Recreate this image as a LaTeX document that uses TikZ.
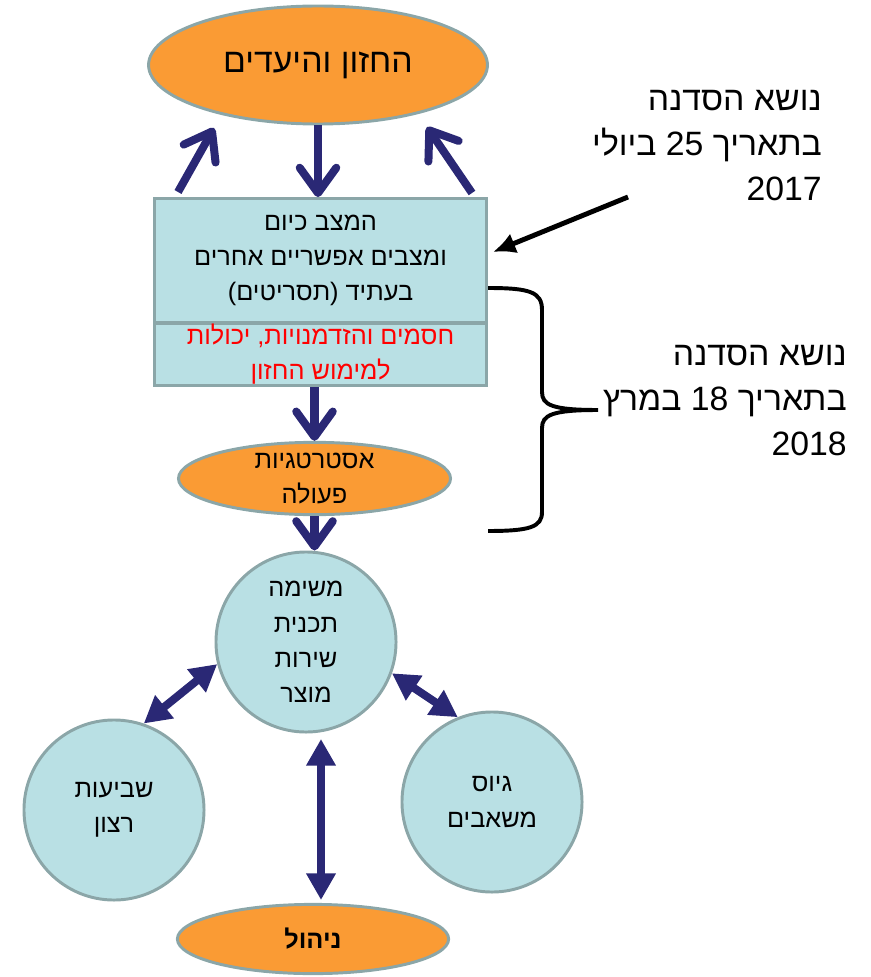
\documentclass[tikz,border=0pt]{standalone}
\usepackage{fontspec}
\setmainfont{Liberation Sans}
\newfontfamily\hebfont[Script=Hebrew]{Liberation Sans}
\usetikzlibrary{shapes.geometric, arrows.meta}
\TeXXeTstate=1
\definecolor{orangefill}{RGB}{250,155,52}
\definecolor{bluefill}{RGB}{185,224,228}
\definecolor{rim}{RGB}{139,166,168}
\definecolor{navy}{RGB}{42,40,117}
\newcommand{\heb}[1]{\beginR #1\endR}
\tikzstyle{goal}=[ellipse, draw=rim, fill=orangefill, line width=2.1pt, inner sep=0pt, align=center]
\tikzstyle{stage}=[rectangle, draw=rim, fill=bluefill, line width=2.1pt, inner sep=0pt, minimum width=8.3cm, align=center]
\tikzstyle{bubble}=[circle, draw=rim, fill=bluefill, line width=2.1pt, inner sep=0pt, minimum size=4.5cm, align=center]
\tikzstyle{flow}=[navy, line width=5.7pt, -{Straight Barb[length=18pt,width=26pt,round]}]
\tikzstyle{link}=[navy, line width=5.7pt, {Triangle[length=19pt,width=20pt]}-{Triangle[length=19pt,width=20pt]}]
\tikzstyle{pointer}=[black, line width=3.5pt, -{Latex[length=16pt,width=15pt]}]
\tikzstyle{note}=[font=\hebfont\fontsize{24}{32}\selectfont, align=right, anchor=east, inner sep=0pt]

\begin{document}
\begin{tikzpicture}[x=0.025cm, y=-0.025cm, font=\hebfont\fontsize{18}{25}\selectfont]
\useasboundingbox (0,0) rectangle (870,977);
\node [goal, minimum width=8.47cm, minimum height=2.95cm, font=\hebfont\fontsize{24}{28}\selectfont] (vision) at (318,65) {\heb{החזון והיעדים}};
\node [stage, minimum height=3.11cm] (scenario) at (320.5,260.75) {\heb{המצב כיום}\\ \heb{ומצבים אפשריים אחרים}\\ \heb{בעתיד (תסריטים)}};
\node [stage, minimum height=1.56cm, text=red] (barriers) at (320.5,354.25) {\heb{חסמים והזדמנויות, יכולות}\\ \heb{למימוש החזון}};
\node [goal, minimum width=6.8cm, minimum height=1.75cm] (strategy) at (314.5,478.5) {\heb{אסטרטגיות}\\ \heb{פעולה}};
\node [bubble] (task) at (306,642) {\heb{משימה}\\ \heb{תכנית}\\ \heb{שירות}\\ \heb{מוצר}};
\node [bubble] (satisfaction) at (114,810) {\heb{שביעות}\\ \heb{רצון}};
\node [bubble] (resources) at (492,802) {\heb{גיוס}\\ \heb{משאבים}};
\node [goal, minimum width=6.78cm, minimum height=1.73cm, font=\hebfont\bfseries\fontsize{18}{22}\selectfont] (management) at (313,939) {\heb{ניהול}};
\node [note] (july) at (822,146) {\heb{נושא הסדנה}\\ \heb{בתאריך 25 ביולי}\\ 2017};
\node [note] (march) at (847,401) {\heb{נושא הסדנה}\\ \heb{בתאריך 18 במרץ}\\ 2018};

\coordinate (a1) at (178,192); \coordinate (b1) at (214,128);
\coordinate (a3) at (472,193); \coordinate (b3) at (427,127);
\coordinate (up) at (321,739); \coordinate (down) at (321,900);
\coordinate (julytail) at (628,197); \coordinate (julytip) at (493,252);

\draw [flow] (a1) -- (b1); \draw [flow] (a3) -- (b3);
\draw [flow] (vision.south) -- (vision.south |- scenario.north);
\draw [flow] (strategy.north |- barriers.south) -- (strategy.north);
\draw [flow] (strategy.south) -- (strategy.south |- task.north);
\draw [link] (satisfaction.71) -- (task.194);
\draw [link] (task.340) -- (resources.112);
\draw [link] (up) -- (down);
\draw [pointer] (julytail) -- (julytip);
\draw [line width=2.8pt] (488,288) .. controls (530,288) and (542,292) .. (542,310) -- (542,392) .. controls (542,405) and (552,410) .. (598,410) .. controls (552,410) and (542,415) .. (542,428) -- (542,512) .. controls (542,527) and (530,531) .. (488,531);
\end{tikzpicture}
\end{document}
